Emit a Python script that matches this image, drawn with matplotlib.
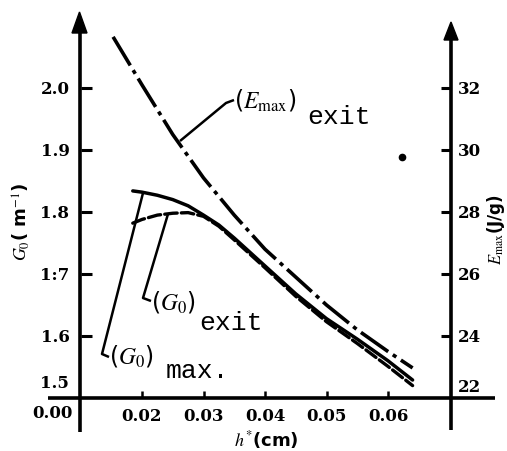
import matplotlib
matplotlib.use("Agg")
import matplotlib.pyplot as plt
from matplotlib.lines import Line2D
from matplotlib.patches import Polygon

plt.rcParams['mathtext.fontset'] = 'stix'
plt.rcParams['lines.scale_dashes'] = False

# ---------------- data ----------------
h_emax = [0.0153, 0.020, 0.025, 0.030, 0.035, 0.040, 0.045, 0.050, 0.055, 0.060, 0.064]
emax_exit = [33.65, 32.1, 30.5, 29.1, 27.9, 26.8, 25.9, 25.0, 24.2, 23.5, 22.97]

h_gmax = [0.0185, 0.020, 0.0225, 0.025, 0.0275, 0.030, 0.0325, 0.035, 0.040, 0.045, 0.050, 0.055, 0.060, 0.064]
g0_max = [1.834, 1.832, 1.827, 1.820, 1.810, 1.795, 1.779, 1.758, 1.713, 1.668, 1.628, 1.595, 1.560, 1.529]

h_gexit = [0.0185, 0.020, 0.0225, 0.025, 0.0275, 0.030, 0.0325, 0.035, 0.040, 0.045, 0.050, 0.055, 0.060, 0.064]
g0_exit = [1.782, 1.788, 1.795, 1.798, 1.799, 1.793, 1.777, 1.755, 1.710, 1.664, 1.623, 1.588, 1.551, 1.520]

x_ticks = [0.02, 0.03, 0.04, 0.05, 0.06]
x_ticklabels = ["0.02", "0.03", "0.04", "0.05", "0.06"]
gl_ticks = [1.6, 1.7, 1.8, 1.9, 2.0]
gl_ticklabels = ["1.6", "1:7", "1.8", "1.9", "2.0"]
er_ticks = [24, 26, 28, 30, 32]
er_ticklabels = ["24", "26", "28", "30", "32"]

# ---------------- figure ----------------
W, H = 507, 451
fig = plt.figure(figsize=(W / 100, H / 100), dpi=100)
fig.patch.set_facecolor("white")


def P(px, py):
    return (px / W, 1 - py / H)


x0, x1 = 80.5, 451.0
y0, y1 = 398.0, 12.0
ax = fig.add_axes([x0 / W, 1 - y0 / H, (x1 - x0) / W, (y0 - y1) / H])
ax.set_xlim(0.01, 0.01 + (x1 - x0) / 6150.0)
ax.set_ylim(1.5, 1.5 + (y0 - y1) / 620.0)
ax2 = ax.twinx()
ax2.set_ylim(22, 22 + (y0 - y1) / 31.0)

for a in (ax, ax2):
    for s in a.spines.values():
        s.set_visible(False)
    a.patch.set_visible(False)

tick_font = dict(family="DejaVu Serif", weight="bold", size=12)

ax.set_xticks(x_ticks)
ax.set_xticklabels(x_ticklabels, fontdict=tick_font)
ax.tick_params(axis="x", direction="in", length=5, width=1.8, pad=7)
ax.set_yticks(gl_ticks)
ax.set_yticklabels(gl_ticklabels, fontdict=tick_font)
ax.tick_params(axis="y", direction="in", length=8, width=2.2, pad=8)
ax2.set_yticks(er_ticks)
ax2.set_yticklabels(er_ticklabels, fontdict=tick_font)
ax2.tick_params(axis="y", direction="in", length=7, width=2.2, pad=5)

# curves
ax2.plot(h_emax, emax_exit, color="black", lw=2.6, dashes=(24, 4, 3, 4),
         solid_capstyle="round", dash_capstyle="butt")
ax.plot(h_gmax, g0_max, color="black", lw=2.5, solid_capstyle="round")
ax.plot(h_gexit, g0_exit, color="black", lw=2.4, dashes=(9, 3), dash_capstyle="round")

# axis lines (figure pixels)
def fline(pts, lw=2.4):
    xs = [P(*p)[0] for p in pts]
    ys = [P(*p)[1] for p in pts]
    fig.add_artist(Line2D(xs, ys, color="black", lw=lw, solid_capstyle="butt"))

fline([(48, 398), (495, 398)], lw=2.6)
fline([(79.5, 432), (79.5, 30)], lw=2.6)
fline([(451, 430), (451, 38)], lw=2.6)
fig.add_artist(Polygon([P(72, 33), P(87, 33), P(79.5, 12)], closed=True,
                       color="black", transform=fig.transFigure))
fig.add_artist(Polygon([P(444, 40), P(458, 40), P(451, 22)], closed=True,
                       color="black", transform=fig.transFigure))

# extra tick labels
fig.text(*P(52, 413), "0.00", ha="center", va="center", fontdict=tick_font)
fig.text(*P(69, 384), "1.5", ha="right", va="center", fontdict=tick_font)
fig.text(*P(458, 387), "22", ha="left", va="center", fontdict=tick_font)

# axis titles
fig.text(*P(21, 222), r"$G_0$( m$^{-1}$)", rotation=90, ha="center", va="center",
         fontsize=13, fontweight="bold")
fig.text(*P(496, 230), r"$E_{\max}$(J/g)", rotation=90, ha="center", va="center",
         fontsize=12, fontweight="bold")
fig.text(*P(266, 440), r"$h^{*}$(cm)", ha="center", va="center",
         fontsize=13, fontweight="bold")

# annotations
fline([(180, 141), (226, 103), (234, 100)], lw=1.8)
fline([(168, 214), (143, 298), (151, 301)], lw=1.8)
fline([(143, 193), (102, 354), (109, 357)], lw=1.8)

fig.text(*P(234, 100), r"($E_{\max}$)", ha="left", va="center", fontsize=17)
fig.text(*P(307, 124), "exit", ha="left", va="baseline", family="Liberation Mono", fontsize=19)
fig.text(*P(151, 302), r"($G_0$)", ha="left", va="center", fontsize=17)
fig.text(*P(199, 330), "exit", ha="left", va="baseline", family="Liberation Mono", fontsize=19)
fig.text(*P(109, 356), r"($G_0$)", ha="left", va="center", fontsize=17)
fig.text(*P(166, 378), "max.", ha="left", va="baseline", family="Liberation Mono", fontsize=19)

# stray dot in the scan
fig.add_artist(Line2D([402 / W], [1 - 157 / H], marker="o", markersize=4.5,
                      color="black", lw=0))

fig.savefig("out.png", dpi=100, facecolor="white")
